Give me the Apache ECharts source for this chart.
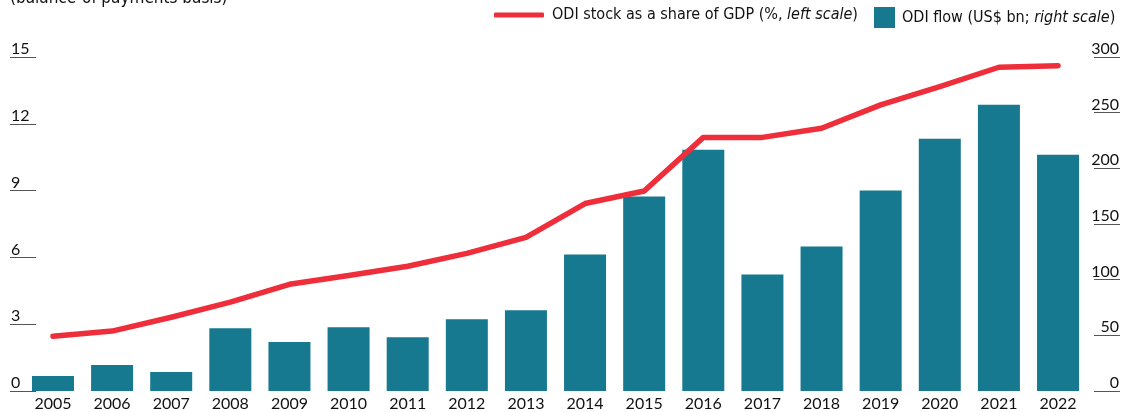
<!DOCTYPE html>
<html>
<head>
<meta charset="utf-8">
<script src="https://cdn.jsdelivr.net/npm/echarts@6/dist/echarts.min.js"></script>
<style>
  html, body { margin: 0; padding: 0; background: #fff; }
  #chart { width: 1123px; height: 412px; }
</style>
</head>
<body>
<div id="chart"></div>
<script>
const years = ['2005', '2006', '2007', '2008', '2009', '2010', '2011', '2012', '2013',
  '2014', '2015', '2016', '2017', '2018', '2019', '2020', '2021', '2022']
// ODI stock as % of GDP (left scale)
const odiStockShare = [2.46, 2.69, 3.31, 3.99, 4.79, 5.19, 5.6, 6.18, 6.9,
  8.42, 8.98, 11.39, 11.39, 11.8, 12.85, 13.67, 14.54, 14.61]
// ODI flow, US$ bn (right scale)
const odiFlow = [13.4, 23.3, 17, 56.4, 43.9, 57.3, 48.3, 64.5, 72.5,
  122.7, 174.8, 216.7, 104.7, 129.8, 180, 226.5, 257, 212.2]

const narrow = "'Liberation Sans Narrow', 'DejaVu Sans Condensed', sans-serif"
const tickFont = "Lato, 'Open Sans', sans-serif"
const red = '#ee2e3a'
const teal = '#16798f'

const chart = echarts.init(document.getElementById('chart'))

const legendRich = {
  n: { fontFamily: narrow, fontSize: 16, color: '#111' },
  i: { fontFamily: narrow, fontSize: 16, color: '#111', fontStyle: 'italic' }
}

const option = {
  animation: false,
  graphic: [{
    type: 'text',
    left: 10,
    top: -10,
    style: { text: '(balance-of-payments basis)', font: "17px 'Liberation Sans Narrow', 'DejaVu Sans Condensed', sans-serif", fill: '#111' }
  }],
  legend: [
    {
      data: [{ name: 'stock', icon: 'roundRect' }],
      left: 494, top: 7, padding: 0,
      itemWidth: 50, itemHeight: 5,
      formatter: () => '{n|ODI stock as a share of GDP (%, }{i|left scale}{n|)}',
      textStyle: { rich: legendRich, padding: [0, 0, 0, 3] }
    },
    {
      data: [{ name: 'flow', icon: 'rect' }],
      left: 874, top: 7, padding: 0,
      itemWidth: 21, itemHeight: 21,
      formatter: () => '{n|ODI flow (US$ bn; }{i|right scale}{n|)}',
      textStyle: { rich: legendRich, padding: [0, 0, 0, 2] }
    }
  ],
  grid: { left: 23.4, right: 35.4, top: 57, bottom: 20, containLabel: false },
  xAxis: {
    type: 'category',
    data: years,
    axisLine: { show: false },
    axisTick: { show: false },
    axisLabel: { margin: 5, color: '#111', fontFamily: tickFont, fontSize: 16 }
  },
  yAxis: [
    {
      type: 'value', min: 0, max: 15, interval: 3,
      position: 'left', offset: 13.4,
      axisLine: { show: false },
      axisTick: { show: true, inside: true, length: 26, lineStyle: { color: '#555', width: 1 } },
      splitLine: { show: false },
      axisLabel: { inside: true, margin: 1, align: 'left', verticalAlign: 'bottom', color: '#111', fontFamily: tickFont, fontSize: 16 }
    },
    {
      type: 'value', min: 0, max: 300, interval: 50,
      position: 'right', offset: 32.4,
      axisLine: { show: false },
      axisTick: { show: true, inside: true, length: 26, lineStyle: { color: '#555', width: 1 } },
      splitLine: { show: false },
      axisLabel: { inside: true, margin: 1, align: 'right', verticalAlign: 'bottom', color: '#111', fontFamily: tickFont, fontSize: 16 }
    }
  ],
  series: [
    {
      name: 'flow',
      type: 'bar',
      yAxisIndex: 1,
      data: odiFlow,
      barWidth: 42,
      color: teal,
      itemStyle: { color: teal }
    },
    {
      name: 'stock',
      type: 'line',
      yAxisIndex: 0,
      data: odiStockShare,
      color: red,
      symbol: 'none',
      z: 5,
      lineStyle: { color: red, width: 5.5, cap: 'round', join: 'round' },
      itemStyle: { color: red }
    }
  ]
}

chart.setOption(option)
</script>
</body>
</html>
